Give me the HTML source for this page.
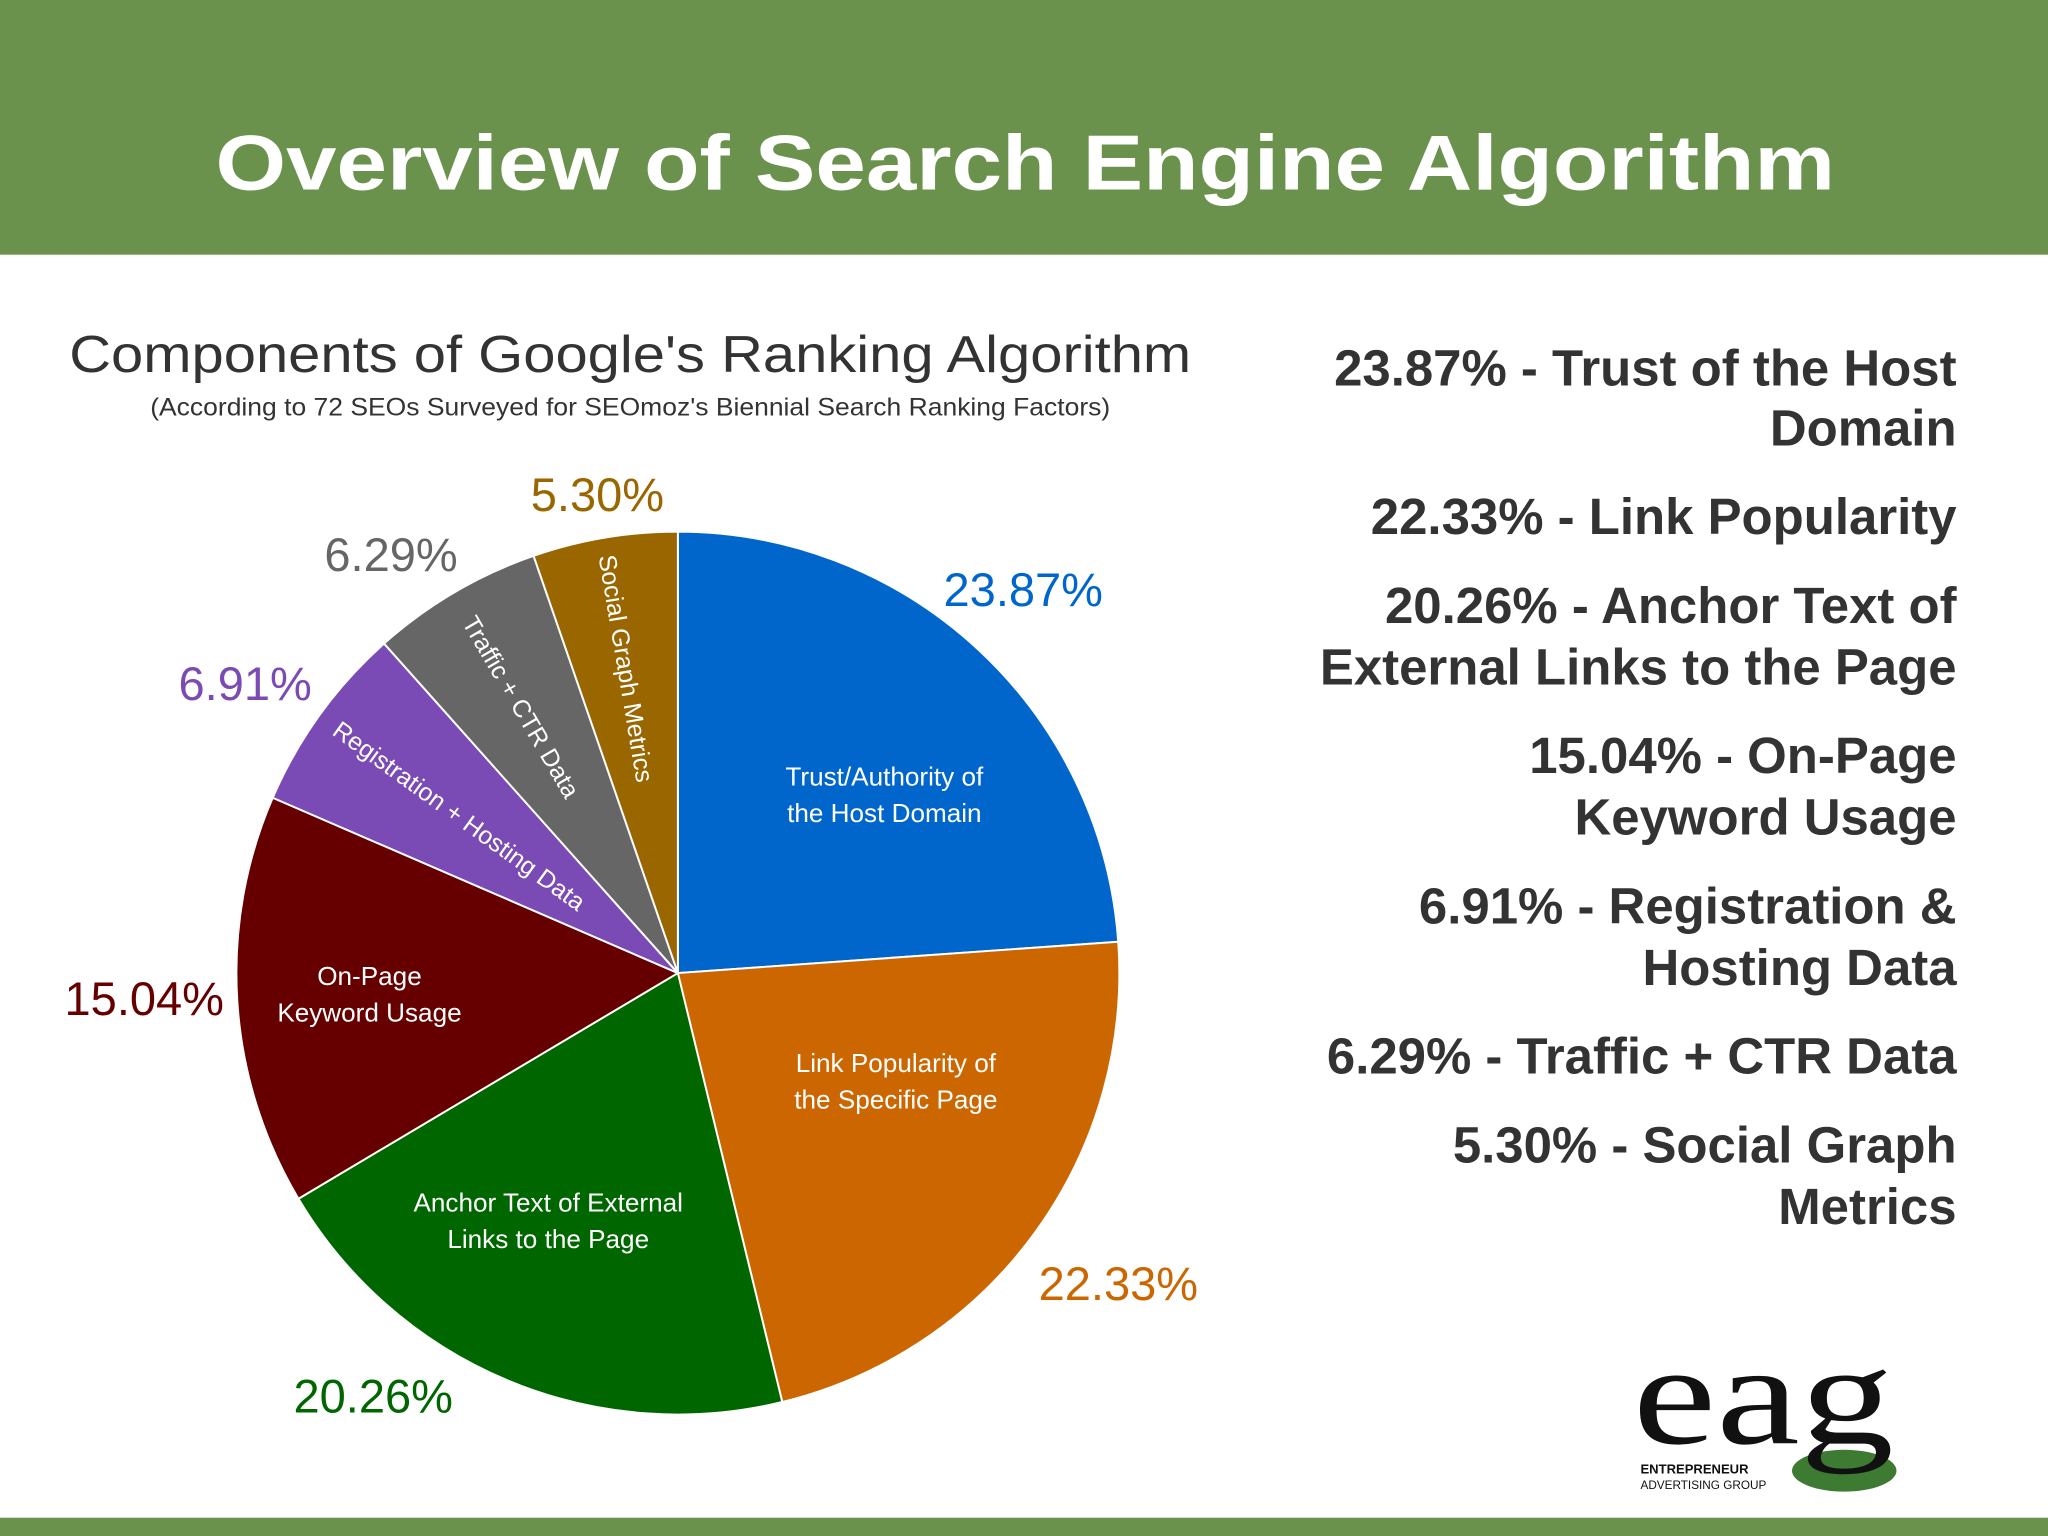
<!DOCTYPE html>
<html><head><meta charset="utf-8"><style>
html,body{margin:0;padding:0;background:#fff;}
svg{display:block;font-family:"Liberation Sans",sans-serif;}
</style></head><body>
<svg id="s" width="2048" height="1536" viewBox="0 0 2048 1536" xmlns="http://www.w3.org/2000/svg">
<g transform="scale(1.30612)">
<rect x="0" y="0" width="1568" height="195" fill="#6a924c"/>
<text x="785" y="145" text-anchor="middle" font-size="60" font-weight="bold" fill="#fff" textLength="1240" lengthAdjust="spacingAndGlyphs">Overview of Search Engine Algorithm</text>
<rect x="0" y="1162" width="1568" height="14" fill="#6a924c"/>
<text x="53" y="285" font-size="40" fill="#333" textLength="859" lengthAdjust="spacingAndGlyphs">Components of Google's Ranking Algorithm</text>
<text x="115" y="318" font-size="19" fill="#333" textLength="735" lengthAdjust="spacingAndGlyphs">(According to 72 SEOs Surveyed for SEOmoz's Biennial Search Ranking Factors)</text>
<g id="pie"></g>
<g id="legend" font-size="39" font-weight="bold" fill="#333" text-anchor="end">
<text x="1498" y="295">23.87% - Trust of the Host</text>
<text x="1498" y="341">Domain</text>
<text x="1498" y="409">22.33% - Link Popularity</text>
<text x="1498" y="477">20.26% - Anchor Text of</text>
<text x="1498" y="524">External Links to the Page</text>
<text x="1498" y="592">15.04% - On-Page</text>
<text x="1498" y="639">Keyword Usage</text>
<text x="1498" y="707">6.91% - Registration &amp;</text>
<text x="1498" y="754">Hosting Data</text>
<text x="1498" y="822">6.29% - Traffic + CTR Data</text>
<text x="1498" y="890">5.30% - Social Graph</text>
<text x="1498" y="937">Metrics</text>
</g>
<g>
<ellipse cx="1412" cy="1126" rx="40" ry="16" fill="#3d7a32"/>
<text x="1350" y="1105" text-anchor="middle" font-family="'Liberation Serif',serif" font-size="110" fill="#111" textLength="200" lengthAdjust="spacingAndGlyphs">eag</text>
<text x="1256" y="1128" font-size="10" font-weight="bold" fill="#111">ENTREPRENEUR</text>
<text x="1256" y="1140" font-size="9" fill="#111">ADVERTISING GROUP</text>
</g>
</g>
</svg>
<script>
const categories=["Trust/Authority of|the Host Domain","Link Popularity of|the Specific Page","Anchor Text of External|Links to the Page","On-Page|Keyword Usage","Registration + Hosting Data","Traffic + CTR Data","Social Graph Metrics"];
const values=[23.87,22.33,20.26,15.04,6.91,6.29,5.30];
const valueLabels=["23.87%","22.33%","20.26%","15.04%","6.91%","6.29%","5.30%"];
const colors=["#0066cc","#cc6600","#006600","#660000","#7b4bb5","#666666","#996600"];
const NS="http://www.w3.org/2000/svg";
const g=document.getElementById('pie');
const cx=519,cy=745,r=338;
const outAngleAdj=[-1,-1,13,1,-2,-4,0], outRad=[1.17,1.22,1.18,1.21,1.18,1.15,1.1];
const inAngleAdj=[6,-10,5,0,0,0,0], inRad=[0.62,0.55,0.63,0.7,0.61,0.7,0.7];
const total=values.reduce((a,b)=>a+b,0);
function pt(deg,rad){const a=deg*Math.PI/180;return [cx+rad*Math.sin(a),cy-rad*Math.cos(a)];}
let cum=0;
values.forEach((v,i)=>{
  const a0=cum/total*360,a1=(cum+v)/total*360;cum+=v;
  const p0=pt(a0,r),p1=pt(a1,r);
  const path=document.createElementNS(NS,'path');
  path.setAttribute('d',`M${cx},${cy} L${p0[0]},${p0[1]} A${r},${r} 0 ${a1-a0>180?1:0} 1 ${p1[0]},${p1[1]} Z`);
  path.setAttribute('fill',colors[i]);path.setAttribute('stroke','#fff');path.setAttribute('stroke-width','1.5');
  
  
  g.appendChild(path);
  const mid=(a0+a1)/2;
  const small=v<10;
  const t=document.createElementNS(NS,'text');
  t.setAttribute('fill','#fff');t.setAttribute('font-size',small?'19':'20');t.setAttribute('text-anchor','middle');
  
  
  if(small){
    const p=pt(mid,r*inRad[i]);
    t.setAttribute('transform',`translate(${p[0]},${p[1]}) rotate(${mid-270})`);
    t.setAttribute('dy','7');
    t.textContent=categories[i];
  } else {
    const p=pt(mid+inAngleAdj[i],r*inRad[i]);
    categories[i].split('|').forEach((line,k)=>{
      const ts=document.createElementNS(NS,'tspan');
      ts.setAttribute('x',p[0]);ts.setAttribute('y',p[1]-6+k*28);ts.textContent=line;t.appendChild(ts);
    });
  }
  g.appendChild(t);
  const lp=pt(mid+outAngleAdj[i],r*outRad[i]);
  const vl=document.createElementNS(NS,'text');
  vl.setAttribute('x',lp[0]);vl.setAttribute('y',lp[1]+13);
  vl.setAttribute('text-anchor','middle');vl.setAttribute('font-size','36');vl.setAttribute('fill',colors[i]);
  
  
  vl.textContent=valueLabels[i];
  g.appendChild(vl);
});
</script>
</body></html>
